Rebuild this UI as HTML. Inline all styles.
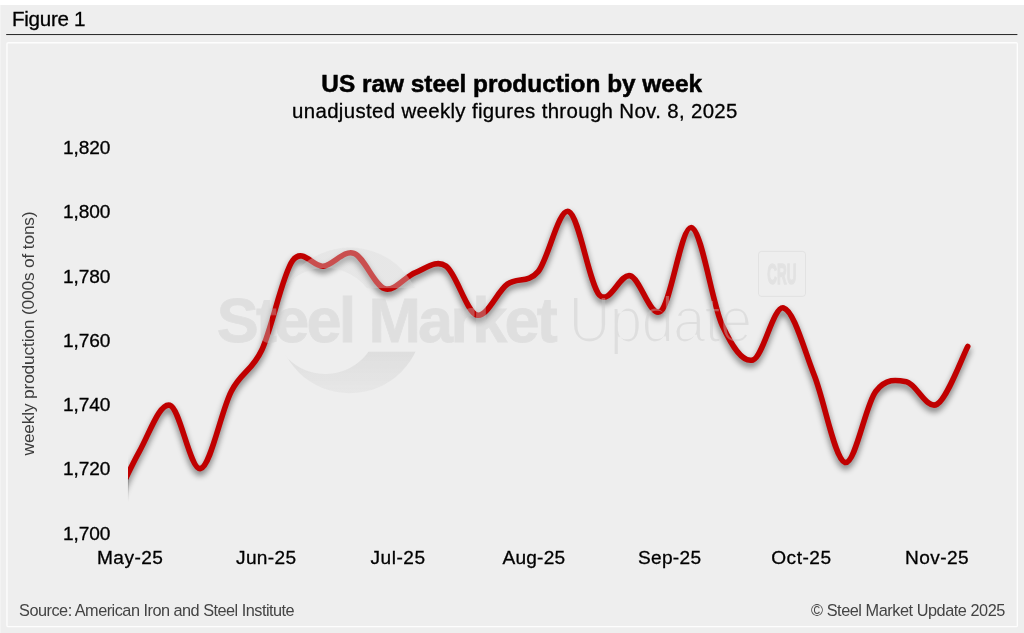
<!DOCTYPE html>
<html lang="en">
<head>
<meta charset="utf-8">
<title>US raw steel production by week</title>
<style>
html,body{margin:0;padding:0;background:#eeeeee;}
body{width:1024px;height:633px;overflow:hidden;position:relative;font-family:'Liberation Sans', Arial, Helvetica, sans-serif;}
svg{position:absolute;left:0;top:0;display:block;}
text{font-family:'Liberation Sans', Arial, Helvetica, sans-serif;}
</style>
</head>
<body>
<svg width="1024" height="633" viewBox="0 0 1024 633">
<defs>
  <filter id="sh" x="-5%" y="-10%" width="110%" height="125%" color-interpolation-filters="sRGB">
    <feGaussianBlur in="SourceAlpha" stdDeviation="3.1"/>
    <feOffset dx="0.3" dy="3.6" result="b"/>
    <feComponentTransfer><feFuncA type="linear" slope="0.52"/></feComponentTransfer>
    <feMerge><feMergeNode/><feMergeNode in="SourceGraphic"/></feMerge>
  </filter>
  <filter id="thin" x="-5%" y="-20%" width="110%" height="150%">
    <feMorphology operator="erode" radius="1.1"/>
  </filter>
  <mask id="ring" maskUnits="userSpaceOnUse" x="270" y="240" width="160" height="160">
    <rect x="270" y="240" width="160" height="48.1" fill="#fff"/>
    <rect x="270" y="351.7" width="160" height="48.3" fill="#fff"/>
    <circle cx="325.3" cy="321" r="53" fill="#000"/>
  </mask>
  <linearGradient id="gSph" x1="0" y1="0" x2="0" y2="1">
    <stop offset="0" stop-color="#dadada" stop-opacity="0.36"/>
    <stop offset="0.5" stop-color="#dadada" stop-opacity="0.36"/>
    <stop offset="0.5" stop-color="#c0c0c0" stop-opacity="0.34"/>
    <stop offset="0.72" stop-color="#c0c0c0" stop-opacity="0.34"/>
    <stop offset="1" stop-color="#c0c0c0" stop-opacity="0.14"/>
  </linearGradient>
  <clipPath id="plot"><rect x="128" y="130" width="880" height="420"/></clipPath>
  <linearGradient id="gClip" x1="0" y1="0" x2="0" y2="1">
    <stop offset="0" stop-color="#000" stop-opacity="0.16"/>
    <stop offset="1" stop-color="#000" stop-opacity="0"/>
  </linearGradient>
</defs>
<rect x="0" y="0" width="1024" height="633" fill="#eeeeee"/>
<rect x="0" y="0" width="1024" height="5" fill="#ffffff"/>
<rect x="0" y="5" width="1" height="628" fill="#f3f3f3"/>
<text x="12.10" y="25.75" font-size="20.6" letter-spacing="-0.32" fill="#000" stroke="#000" stroke-width="0.3">Figure 1</text>
<rect x="6.2" y="34" width="1011.2" height="1.05" fill="#2e2e2e"/>
<rect x="6.95" y="42.75" width="1010.4" height="583.9" rx="1.2" fill="none" stroke="#fdfdfd" stroke-width="1.4"/>
<text x="321.35" y="92.20" font-size="24.4" font-weight="bold" letter-spacing="-0.007" fill="#000" stroke="#000" stroke-width="0.5">US raw steel production by week</text>
<text x="292.05" y="117.85" font-size="20.4" letter-spacing="0.358" fill="#000" stroke="#000" stroke-width="0.3">unadjusted weekly figures through Nov. 8, 2025</text>
<text x="63.05" y="154.00" font-size="19.1" letter-spacing="-0.125" fill="#000" stroke="#000" stroke-width="0.3">1,820</text>
<text x="63.05" y="218.25" font-size="19.1" letter-spacing="-0.125" fill="#000" stroke="#000" stroke-width="0.3">1,800</text>
<text x="63.05" y="282.50" font-size="19.1" letter-spacing="-0.125" fill="#000" stroke="#000" stroke-width="0.3">1,780</text>
<text x="63.05" y="346.75" font-size="19.1" letter-spacing="-0.125" fill="#000" stroke="#000" stroke-width="0.3">1,760</text>
<text x="63.05" y="411.00" font-size="19.1" letter-spacing="-0.125" fill="#000" stroke="#000" stroke-width="0.3">1,740</text>
<text x="63.05" y="475.25" font-size="19.1" letter-spacing="-0.125" fill="#000" stroke="#000" stroke-width="0.3">1,720</text>
<text x="63.05" y="539.50" font-size="19.1" letter-spacing="-0.125" fill="#000" stroke="#000" stroke-width="0.3">1,700</text>
<text x="97.00" y="563.80" font-size="19.1" letter-spacing="0.45" fill="#000" stroke="#000" stroke-width="0.3">May-25</text>
<text x="236.00" y="563.80" font-size="19.1" letter-spacing="0.35" fill="#000" stroke="#000" stroke-width="0.3">Jun-25</text>
<text x="370.50" y="563.80" font-size="19.1" letter-spacing="0.5" fill="#000" stroke="#000" stroke-width="0.3">Jul-25</text>
<text x="502.50" y="563.80" font-size="19.1" letter-spacing="0.2" fill="#000" stroke="#000" stroke-width="0.3">Aug-25</text>
<text x="638.00" y="563.80" font-size="19.1" letter-spacing="0.3" fill="#000" stroke="#000" stroke-width="0.3">Sep-25</text>
<text x="771.25" y="563.80" font-size="19.1" letter-spacing="0.5" fill="#000" stroke="#000" stroke-width="0.3">Oct-25</text>
<text x="905.00" y="563.80" font-size="19.1" letter-spacing="0.42" fill="#000" stroke="#000" stroke-width="0.3">Nov-25</text>
<text transform="translate(34.4,455.45) rotate(-90)" font-size="17.3" letter-spacing="-0.153" fill="#3c3c3c">weekly production (000s of tons)</text>
<text x="19.10" y="616.20" font-size="16.3" letter-spacing="-0.509" fill="#444444">Source: American Iron and Steel Institute</text>
<text x="811.10" y="616.20" font-size="16.3" letter-spacing="-0.458" fill="#444444">© Steel Market Update 2025</text>
<g clip-path="url(#plot)">
<path d="M108.48,515.13 C113.59,504.58 128.94,470.16 139.17,451.84 C149.40,433.53 159.63,402.48 169.86,405.26 C180.09,408.05 190.31,470.85 200.54,468.55 C210.77,466.25 221.00,411.26 231.23,391.45 C241.46,371.64 251.69,371.48 261.92,349.69 C272.15,327.90 282.38,274.62 292.61,260.70 C302.84,246.78 313.07,267.39 323.30,266.16 C333.53,264.93 343.75,249.56 353.98,253.31 C364.21,257.06 374.44,285.44 384.67,288.65 C394.90,291.86 405.13,276.34 415.36,272.59 C425.59,268.84 435.82,259.09 446.05,266.16 C456.28,273.23 466.51,311.99 476.74,314.99 C486.97,317.99 497.19,291.38 507.42,284.15 C517.65,276.92 527.88,283.72 538.11,271.62 C548.34,259.52 558.57,207.64 568.80,211.55 C579.03,215.46 589.26,284.37 599.49,295.07 C609.72,305.78 619.95,273.12 630.18,275.80 C640.41,278.48 650.63,319.17 660.86,311.14 C671.09,303.11 681.32,225.26 691.55,227.61 C701.78,229.97 712.01,303.21 722.24,325.27 C732.47,347.33 742.70,362.86 752.93,359.97 C763.16,357.08 773.39,305.35 783.62,307.92 C793.85,310.49 804.07,349.63 814.30,375.39 C824.53,401.14 834.76,459.77 844.99,462.45 C855.22,465.12 865.45,404.89 875.68,391.45 C885.91,378.01 896.14,379.67 906.37,381.81 C916.60,383.95 926.83,410.19 937.06,404.30 C947.29,398.41 962.63,356.11 967.74,346.47" fill="none" stroke="#c00000" stroke-width="5.6" stroke-linecap="round" stroke-linejoin="round" filter="url(#sh)"/>
</g>
<rect x="127.8" y="478" width="1.2" height="24" fill="url(#gClip)"/>
<g>
  <g mask="url(#ring)"><circle cx="349.8" cy="320.4" r="72.8" fill="url(#gSph)"/></g>
  <g opacity="0.37">
    <text x="216.8" y="341.6" font-size="63" font-weight="bold" letter-spacing="-2.75" fill="#c8c8c8" stroke="#c8c8c8" stroke-width="0.8">Steel Market</text>
  </g>
  <g opacity="0.40" filter="url(#thin)">
    <text transform="translate(568.6,341.6) scale(0.905,1)" font-size="64.5" letter-spacing="-1" fill="#c8c8c8">Update</text>
  </g>
  <rect x="758.5" y="251.4" width="47" height="45" rx="3" fill="none" stroke="#c8c8c8" stroke-opacity="0.30" stroke-width="1"/>
  <g opacity="0.29">
    <text transform="translate(767.3,284.3) scale(0.45,1)" font-size="30" font-weight="bold" fill="#c8c8c8" stroke="#c8c8c8" stroke-width="1.3" stroke-linejoin="round" vector-effect="non-scaling-stroke">CRU</text>
  </g>
</g>
</svg>
</body>
</html>
